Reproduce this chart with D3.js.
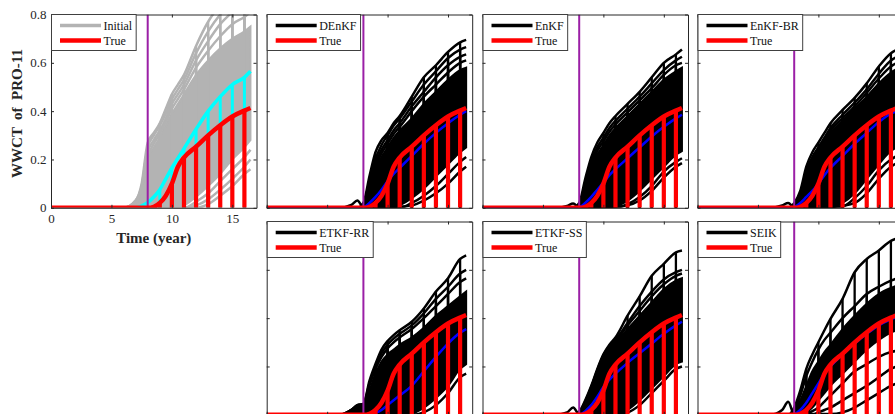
<!DOCTYPE html>
<html>
<head>
<meta charset="utf-8">
<script src="https://cdn.jsdelivr.net/npm/d3@7"></script>
<style>
  body { margin: 0; background: #fff; }
  svg { display: block; font-family: "Liberation Serif", "Times New Roman", serif; }
</style>
</head>
<body>
<svg id="fig"></svg>
<script>
// time nodes (year) shared by every series below
const years = [0, 6, 7, 7.5, 8, 8.5, 9, 9.5, 10, 10.5, 11, 12, 13, 14, 15, 16, 16.5];
// restart / update times where each curve drops back to zero
const updateYears = [9, 10, 11, 12, 13, 14, 15, 16];

const xTicks = [0, 5, 10, 15];
const xTickLabels = ['0', '5', '10', '15'];
const yTicks = [0, 0.2, 0.4, 0.6, 0.8];
const yTickLabels = ['0', '0.2', '0.4', '0.6', '0.8'];

const trueWWCT = [0, 0, 0, 0, 0, 0.004, 0.02, 0.05, 0.1, 0.17, 0.208, 0.253, 0.30, 0.342, 0.378, 0.402, 0.413];

// initial ensemble
const initMean = [0, 0, 0, 0.008, 0.022, 0.045, 0.075, 0.12, 0.165, 0.205, 0.245, 0.325, 0.40, 0.46, 0.51, 0.54, 0.565];
const initLo = [0, 0, 0, 0, 0, 0, 0, 0, 0, 0, 0.01, 0.045, 0.09, 0.14, 0.2, 0.25, 0.28];
const initHi = [0, 0, 0.025, 0.08, 0.2, 0.25, 0.29, 0.34, 0.39, 0.43, 0.47, 0.55, 0.61, 0.66, 0.70, 0.73, 0.75];
const initMembers = [
  [0, 0, 0.03, 0.1, 0.27, 0.31, 0.35, 0.41, 0.47, 0.51, 0.55, 0.67, 0.77, 0.84, 0.89, 0.93, 0.95],
  [0, 0, 0.03, 0.09, 0.25, 0.30, 0.34, 0.39, 0.45, 0.49, 0.53, 0.64, 0.73, 0.80, 0.85, 0.89, 0.91],
  [0, 0, 0.02, 0.085, 0.23, 0.28, 0.32, 0.37, 0.43, 0.47, 0.51, 0.61, 0.69, 0.76, 0.81, 0.85, 0.87],
  [0, 0, 0.02, 0.08, 0.21, 0.265, 0.305, 0.355, 0.41, 0.45, 0.49, 0.58, 0.65, 0.71, 0.76, 0.79, 0.81],
  [0, 0, 0, 0, 0, 0, 0, 0, 0, 0, 0, 0.025, 0.06, 0.11, 0.16, 0.21, 0.24],
  [0, 0, 0, 0, 0, 0, 0, 0, 0, 0, 0, 0.01, 0.035, 0.075, 0.12, 0.17, 0.2],
  [0, 0, 0, 0, 0, 0, 0, 0, 0, 0, 0, 0, 0.015, 0.05, 0.09, 0.14, 0.16]
];

// DEnKF
const denkfMean = [0, 0, 0, 0, 0.002, 0.02, 0.045, 0.075, 0.11, 0.14, 0.165, 0.215, 0.265, 0.31, 0.35, 0.385, 0.40];
const denkfLo = [0, 0, 0, 0, 0, 0, 0, 0, 0, 0, 0.01, 0.04, 0.08, 0.13, 0.18, 0.23, 0.25];
const denkfHi = [0, 0, 0, 0, 0.005, 0.08, 0.16, 0.21, 0.25, 0.29, 0.32, 0.37, 0.43, 0.48, 0.53, 0.57, 0.58];
const denkfMembers = [
  [0, 0, 0, 0, 0.02, 0.13, 0.23, 0.28, 0.31, 0.35, 0.38, 0.46, 0.54, 0.59, 0.645, 0.685, 0.695],
  [0, 0, 0, 0, 0.015, 0.11, 0.2, 0.26, 0.3, 0.34, 0.37, 0.44, 0.51, 0.565, 0.62, 0.655, 0.665],
  [0, 0, 0, 0, 0.01, 0.09, 0.18, 0.24, 0.28, 0.32, 0.35, 0.42, 0.48, 0.54, 0.59, 0.625, 0.635],
  [0, 0, 0, 0, 0.008, 0.085, 0.17, 0.225, 0.265, 0.305, 0.335, 0.40, 0.46, 0.51, 0.56, 0.60, 0.61],
  [0, 0, 0, 0, 0, 0, 0, 0, 0, 0, 0, 0.02, 0.05, 0.09, 0.14, 0.19, 0.21],
  [0, 0, 0.012, 0.03, 0.003, 0.005, 0.005, 0.005, 0.005, 0.005, 0.005, 0.01, 0.03, 0.06, 0.10, 0.15, 0.17]
];

// EnKF
const enkfMean = [0, 0, 0, 0, 0.002, 0.02, 0.045, 0.075, 0.105, 0.135, 0.16, 0.205, 0.25, 0.295, 0.335, 0.37, 0.385];
const enkfLo = [0, 0, 0, 0, 0, 0, 0, 0, 0, 0, 0.005, 0.03, 0.07, 0.12, 0.17, 0.22, 0.235];
const enkfHi = [0, 0, 0, 0, 0.008, 0.08, 0.16, 0.22, 0.26, 0.30, 0.33, 0.38, 0.43, 0.48, 0.53, 0.565, 0.58];
const enkfMembers = [
  [0, 0, 0, 0, 0.02, 0.12, 0.21, 0.27, 0.31, 0.35, 0.38, 0.43, 0.48, 0.54, 0.60, 0.635, 0.655],
  [0, 0, 0, 0, 0.015, 0.1, 0.19, 0.25, 0.29, 0.33, 0.36, 0.41, 0.46, 0.515, 0.57, 0.61, 0.625],
  [0, 0, 0, 0, 0.01, 0.09, 0.175, 0.235, 0.275, 0.315, 0.345, 0.395, 0.445, 0.495, 0.55, 0.59, 0.60],
  [0, 0, 0, 0, 0, 0, 0, 0, 0, 0, 0, 0.015, 0.045, 0.09, 0.15, 0.19, 0.205],
  [0, 0, 0.008, 0.018, 0.002, 0.003, 0.004, 0.004, 0.004, 0.004, 0.005, 0.01, 0.03, 0.07, 0.125, 0.17, 0.185]
];

// EnKF-BR
const brMean = [0, 0, 0, 0, 0.003, 0.02, 0.045, 0.07, 0.10, 0.135, 0.165, 0.215, 0.265, 0.31, 0.355, 0.39, 0.40];
const brLo = [0, 0, 0, 0, 0, 0, 0, 0, 0, 0, 0, 0.02, 0.06, 0.12, 0.18, 0.235, 0.25];
const brHi = [0, 0, 0, 0, 0.008, 0.05, 0.13, 0.19, 0.23, 0.27, 0.31, 0.36, 0.41, 0.46, 0.515, 0.56, 0.575];
const brMembers = [
  [0, 0, 0, 0, 0.02, 0.07, 0.17, 0.23, 0.27, 0.31, 0.35, 0.405, 0.455, 0.515, 0.585, 0.64, 0.655],
  [0, 0, 0, 0, 0.015, 0.06, 0.15, 0.21, 0.25, 0.29, 0.33, 0.385, 0.435, 0.49, 0.555, 0.61, 0.625],
  [0, 0, 0, 0, 0.01, 0.055, 0.14, 0.2, 0.24, 0.28, 0.32, 0.37, 0.42, 0.475, 0.535, 0.585, 0.60],
  [0, 0, 0, 0, 0, 0, 0, 0, 0, 0, 0, 0.005, 0.04, 0.09, 0.155, 0.2, 0.215],
  [0, 0, 0.01, 0.02, 0.003, 0.003, 0.004, 0.004, 0.004, 0.004, 0.004, 0.008, 0.02, 0.06, 0.12, 0.17, 0.185]
];

// ETKF-RR
const rrMean = [0, 0, 0, 0, 0, 0.003, 0.008, 0.02, 0.04, 0.06, 0.08, 0.12, 0.18, 0.24, 0.295, 0.34, 0.355];
const rrLo = [0, 0, 0, 0, 0, 0, 0, 0, 0, 0, 0, 0.005, 0.03, 0.07, 0.12, 0.19, 0.21];
const rrHi = [0, 0, 0.02, 0.035, 0.04, 0.1, 0.17, 0.22, 0.25, 0.27, 0.29, 0.32, 0.36, 0.41, 0.45, 0.49, 0.51];
const rrMembers = [
  [0, 0, 0.02, 0.04, 0.045, 0.14, 0.21, 0.27, 0.305, 0.33, 0.35, 0.385, 0.44, 0.51, 0.565, 0.645, 0.66],
  [0, 0, 0.02, 0.04, 0.045, 0.13, 0.2, 0.255, 0.29, 0.315, 0.335, 0.37, 0.42, 0.48, 0.53, 0.585, 0.60],
  [0, 0, 0.02, 0.035, 0.04, 0.12, 0.19, 0.24, 0.275, 0.30, 0.32, 0.355, 0.40, 0.45, 0.50, 0.55, 0.565],
  [0, 0, 0, 0, 0, 0, 0, 0, 0, 0, 0, 0, 0.01, 0.04, 0.09, 0.155, 0.17]
];

// ETKF-SS
const ssMean = [0, 0, 0, 0, 0, 0.015, 0.04, 0.075, 0.115, 0.145, 0.17, 0.215, 0.255, 0.295, 0.335, 0.37, 0.385];
const ssLo = [0, 0, 0, 0, 0, 0, 0, 0, 0, 0, 0, 0.02, 0.06, 0.11, 0.16, 0.21, 0.22];
const ssHi = [0, 0, 0, 0, 0.01, 0.05, 0.11, 0.18, 0.24, 0.28, 0.30, 0.355, 0.41, 0.465, 0.52, 0.555, 0.565];
const ssMembers = [
  [0, 0, 0, 0, 0.012, 0.06, 0.12, 0.19, 0.25, 0.29, 0.32, 0.41, 0.49, 0.575, 0.625, 0.672, 0.68],
  [0, 0, 0, 0, 0.012, 0.055, 0.115, 0.185, 0.245, 0.285, 0.31, 0.38, 0.45, 0.51, 0.56, 0.59, 0.60],
  [0, 0, 0, 0, 0.011, 0.052, 0.112, 0.182, 0.242, 0.282, 0.305, 0.37, 0.43, 0.49, 0.54, 0.575, 0.585],
  [0, 0, 0.01, 0.03, 0.003, 0.004, 0.004, 0.004, 0.004, 0.004, 0.005, 0.01, 0.04, 0.09, 0.14, 0.19, 0.2]
];

// SEIK
const seikMean = [0, 0, 0, 0, 0.003, 0.02, 0.05, 0.09, 0.13, 0.17, 0.20, 0.25, 0.295, 0.335, 0.37, 0.395, 0.405];
const seikLo = [0, 0, 0, 0, 0, 0, 0.01, 0.03, 0.06, 0.09, 0.12, 0.17, 0.22, 0.27, 0.31, 0.34, 0.35];
const seikHi = [0, 0, 0, 0, 0.015, 0.06, 0.12, 0.18, 0.22, 0.26, 0.29, 0.355, 0.41, 0.46, 0.50, 0.525, 0.535];
const seikMembers = [
  [0, 0, 0, 0, 0.03, 0.1, 0.19, 0.25, 0.30, 0.35, 0.397, 0.48, 0.59, 0.645, 0.68, 0.72, 0.73],
  [0, 0, 0, 0, 0.02, 0.08, 0.16, 0.22, 0.27, 0.31, 0.34, 0.40, 0.45, 0.50, 0.53, 0.555, 0.565],
  [0, 0, 0, 0, 0, 0, 0.005, 0.015, 0.03, 0.055, 0.08, 0.13, 0.18, 0.21, 0.24, 0.26, 0.265],
  [0, 0, 0, 0, 0, 0, 0, 0, 0.01, 0.02, 0.03, 0.06, 0.09, 0.12, 0.155, 0.19, 0.20],
  [0, 0, 0.02, 0.054, 0.002, 0.003, 0.003, 0.003, 0.003, 0.003, 0.003, 0.01, 0.03, 0.06, 0.09, 0.12, 0.13]
];

const assimStart = 8;

const panels = [
  { label: 'Initial', col: 0, row: 0, lo: initLo, hi: initHi, members: initMembers, mean: initMean, ens: '#b3b3b3', meanColor: '#00ffff', meanWidth: 3.5, meanDrops: true, labels: true },
  { label: 'DEnKF', col: 1, row: 0, lo: denkfLo, hi: denkfHi, members: denkfMembers, mean: denkfMean },
  { label: 'EnKF', col: 2, row: 0, lo: enkfLo, hi: enkfHi, members: enkfMembers, mean: enkfMean },
  { label: 'EnKF-BR', col: 3, row: 0, lo: brLo, hi: brHi, members: brMembers, mean: brMean },
  { label: 'ETKF-RR', col: 1, row: 1, lo: rrLo, hi: rrHi, members: rrMembers, mean: rrMean },
  { label: 'ETKF-SS', col: 2, row: 1, lo: ssLo, hi: ssHi, members: ssMembers, mean: ssMean },
  { label: 'SEIK', col: 3, row: 1, lo: seikLo, hi: seikHi, members: seikMembers, mean: seikMean }
];

const width = 895;
const height = 414;
const colLeft = [51, 266.7, 482.5, 697.5];
const rowTop = [14.5, 221.5];
const plotW = 205.5;
const plotH = 193.3;
const axisColor = '#262626';
const serif = '"Liberation Serif", "Times New Roman", serif';

const svg = d3.select('#fig').attr('width', width).attr('height', height);

const x = d3.scaleLinear().domain([0, 17]).range([0, plotW]);
const y = d3.scaleLinear().domain([0, 0.8]).range([plotH, 0]);

const line = d3.line()
  .x((d, i) => x(years[i]))
  .y(d => y(d))
  .curve(d3.curveMonotoneX);
const band = d3.area()
  .x((d, i) => x(years[i]))
  .y0(d => y(d[0]))
  .y1(d => y(d[1]))
  .curve(d3.curveMonotoneX);

// vertical drop to zero at every update time
const drawDrops = (g, series, color, w) => {
  g.selectAll(null)
    .data(updateYears)
    .enter()
    .append('line')
    .attr('x1', t => x(t))
    .attr('x2', t => x(t))
    .attr('y1', t => y(series[years.indexOf(t)]))
    .attr('y2', y(0))
    .attr('stroke', color)
    .attr('stroke-width', w);
};

panels.forEach((p, k) => {
  const ensColor = p.ens || '#000';
  const g = svg.append('g')
    .attr('transform', `translate(${colLeft[p.col]},${rowTop[p.row]})`);

  g.append('clipPath').attr('id', `clip${k}`)
    .append('rect').attr('width', plotW).attr('height', plotH);
  const plot = g.append('g').attr('clip-path', `url(#clip${k})`);

  // dense core of the ensemble
  plot.append('path')
    .datum(p.lo.map((v, i) => [v, p.hi[i]]))
    .attr('d', band)
    .attr('fill', ensColor)
    .attr('stroke', ensColor)
    .attr('stroke-width', 2);

  p.members.forEach(m => {
    plot.append('path').datum(m).attr('d', line)
      .attr('fill', 'none').attr('stroke', ensColor).attr('stroke-width', 2.5);
    drawDrops(plot, m, ensColor, 2.3);
  });

  // ensemble mean
  if (p.meanDrops) drawDrops(plot, p.mean, p.meanColor, 3);
  plot.append('path').datum(p.mean).attr('d', line)
    .attr('fill', 'none')
    .attr('stroke', p.meanColor || '#0000ff')
    .attr('stroke-width', p.meanWidth || 2.5);

  // start of assimilation
  plot.append('line')
    .attr('x1', x(assimStart)).attr('x2', x(assimStart))
    .attr('y1', 0).attr('y2', plotH)
    .attr('stroke', '#9b1fa6').attr('stroke-width', 2);

  // truth
  drawDrops(plot, trueWWCT, '#ff0000', 4.2);
  plot.append('path').datum(trueWWCT).attr('d', line)
    .attr('fill', 'none').attr('stroke', '#ff0000').attr('stroke-width', 4.5);

  // axes box with inward ticks on all sides
  const axes = [
    d3.axisBottom(x).tickValues(xTicks).tickSizeInner(-3).tickSizeOuter(0).tickPadding(5.5)
      .tickFormat((d, i) => p.labels ? xTickLabels[i] : ''),
    d3.axisTop(x).tickValues(xTicks).tickSizeInner(-3).tickSizeOuter(0).tickFormat(''),
    d3.axisLeft(y).tickValues(yTicks).tickSizeInner(-3).tickSizeOuter(0).tickPadding(4.5)
      .tickFormat((d, i) => p.labels ? yTickLabels[i] : ''),
    d3.axisRight(y).tickValues(yTicks).tickSizeInner(-3).tickSizeOuter(0).tickFormat('')
  ];
  const shifts = [`translate(0,${plotH})`, 'translate(0,0)', 'translate(0,0)', `translate(${plotW},0)`];
  axes.forEach((a, i) => {
    const ax = g.append('g').attr('transform', shifts[i]).call(a);
    ax.attr('font-family', serif);
    ax.select('.domain').attr('stroke', axisColor);
    ax.selectAll('.tick line').attr('stroke', axisColor);
    ax.selectAll('.tick text')
      .attr('fill', axisColor)
      .style('font-family', serif)
      .style('font-size', '13px');
  });

  // legend
  const entries = [
    { text: p.label, color: ensColor, w: 3.5 },
    { text: 'True', color: '#ff0000', w: 4.5 }
  ];
  const lg = g.append('g').attr('transform', 'translate(0.5,0)');
  const box = lg.append('rect')
    .attr('height', 36)
    .attr('fill', '#fff')
    .attr('stroke', '#404040')
    .attr('stroke-width', 1);
  let maxW = 0;
  entries.forEach((e, i) => {
    const ly = 11 + i * 15;
    lg.append('line')
      .attr('x1', 8.5).attr('x2', 49.5)
      .attr('y1', ly).attr('y2', ly)
      .attr('stroke', e.color).attr('stroke-width', e.w);
    const t = lg.append('text')
      .attr('x', 52).attr('y', ly + 4)
      .style('font-family', serif)
      .style('font-size', '12px')
      .attr('fill', '#111')
      .text(e.text);
    maxW = Math.max(maxW, t.node().getComputedTextLength());
  });
  box.attr('width', 52 + maxW + 4);

  if (p.labels) {
    g.append('text')
      .attr('x', plotW / 2)
      .attr('y', 242.5 - rowTop[p.row])
      .attr('text-anchor', 'middle')
      .style('font-family', serif)
      .style('font-size', '15px')
      .style('font-weight', 'bold')
      .attr('fill', axisColor)
      .text('Time (year)');
    g.append('text')
      .attr('transform', `translate(${22 - colLeft[p.col]},${113.5 - rowTop[p.row]}) rotate(-90)`)
      .attr('text-anchor', 'middle')
      .style('font-family', serif)
      .style('font-size', '15px')
      .style('font-weight', 'bold')
      .style('white-space', 'pre')
      .attr('fill', axisColor)
      .text('WWCT  of  PRO-11');
  }
});
</script>
</body>
</html>
